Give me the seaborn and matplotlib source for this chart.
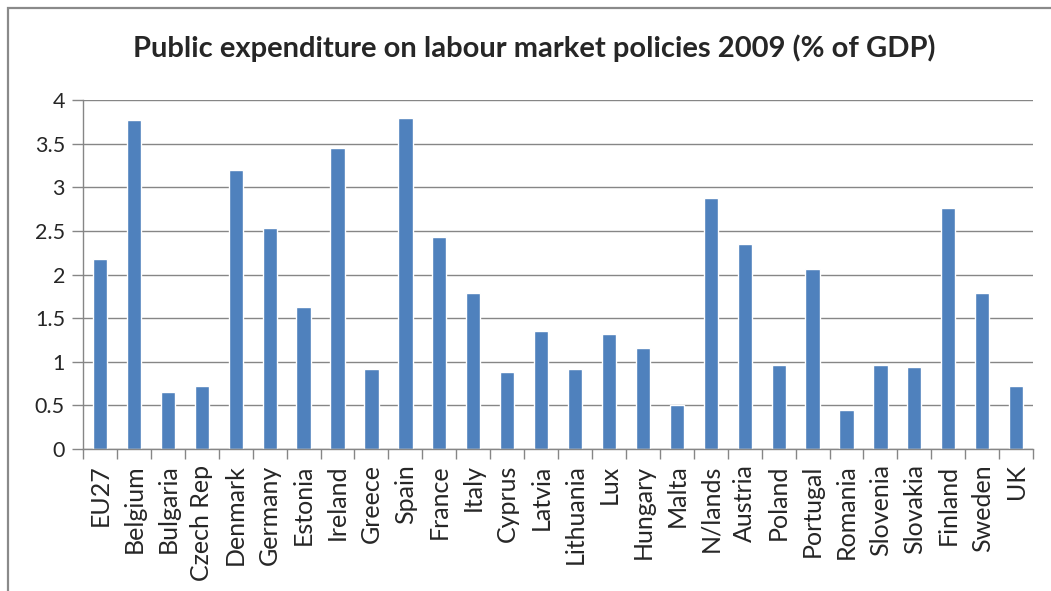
import matplotlib.patches as mpatches
import matplotlib.pyplot as plt
import numpy as np
import pandas as pd
import seaborn as sns

countries = [
    "EU27", "Belgium", "Bulgaria", "Czech Rep", "Denmark", "Germany", "Estonia",
    "Ireland", "Greece", "Spain", "France", "Italy", "Cyprus", "Latvia",
    "Lithuania", "Lux", "Hungary", "Malta", "N/lands", "Austria", "Poland",
    "Portugal", "Romania", "Slovenia", "Slovakia", "Finland", "Sweden", "UK",
]
spending = [
    2.18, 3.77, 0.65, 0.72, 3.20, 2.53, 1.63,
    3.45, 0.92, 3.79, 2.43, 1.79, 0.88, 1.35,
    0.92, 1.32, 1.16, 0.50, 2.88, 2.35, 0.96,
    2.06, 0.45, 0.96, 0.94, 2.76, 1.79, 0.72,
]
yticks = [0, 0.5, 1, 1.5, 2, 2.5, 3, 3.5, 4]
ytick_labels = ["0", "0.5", "1", "1.5", "2", "2.5", "3", "3.5", "4"]

df = pd.DataFrame({"country": countries, "value": spending})

sns.set_theme(style="white")
plt.rcParams["font.family"] = ["Lato", "DejaVu Sans"]

fig = plt.figure(figsize=(10.51, 5.91), dpi=100)
ax = fig.add_axes([0.079, 0.240, 0.904, 0.591])

sns.barplot(data=df, x="country", y="value", color="#4F81BD", saturation=1,
            width=0.42, ax=ax)

ax.set_ylim(0, 4)
ax.set_xlim(-0.5, len(countries) - 0.5)
ax.set_yticks(yticks)
ax.set_yticklabels(ytick_labels, fontsize=15.5)
ax.set_xticks(range(len(countries)))
ax.set_xticklabels(countries, rotation=90, fontsize=18)
ax.set_xticks(np.arange(-0.5, len(countries), 1), minor=True)
ax.tick_params(axis="x", which="major", length=0, pad=11)
ax.tick_params(axis="x", which="minor", length=7, color="#868686", width=1,
               direction="out", bottom=True)
ax.tick_params(axis="y", length=8, color="#868686", width=1, left=True, pad=5)
ax.yaxis.grid(True, color="#868686", linewidth=1)
ax.set_axisbelow(True)
for s in ["top", "right"]:
    ax.spines[s].set_visible(False)
for s in ["left", "bottom"]:
    ax.spines[s].set_color("#868686")
    ax.spines[s].set_linewidth(1)
ax.set_xlabel(None)
ax.set_ylabel(None)

fig.text(0.508, 0.918, "Public expenditure on labour market policies 2009 (% of GDP)",
         ha="center", va="center", fontsize=21, fontweight="bold")

# outer chart frame: only top and left edges fall inside the picture
fig.patches.append(mpatches.Rectangle((7.5 / 1051, -0.1), 1.2, 1.1 - 7.5 / 591,
                                      transform=fig.transFigure, fill=False,
                                      edgecolor="#8a8a8a", linewidth=1.6))

plt.savefig("out.png", dpi=100)
